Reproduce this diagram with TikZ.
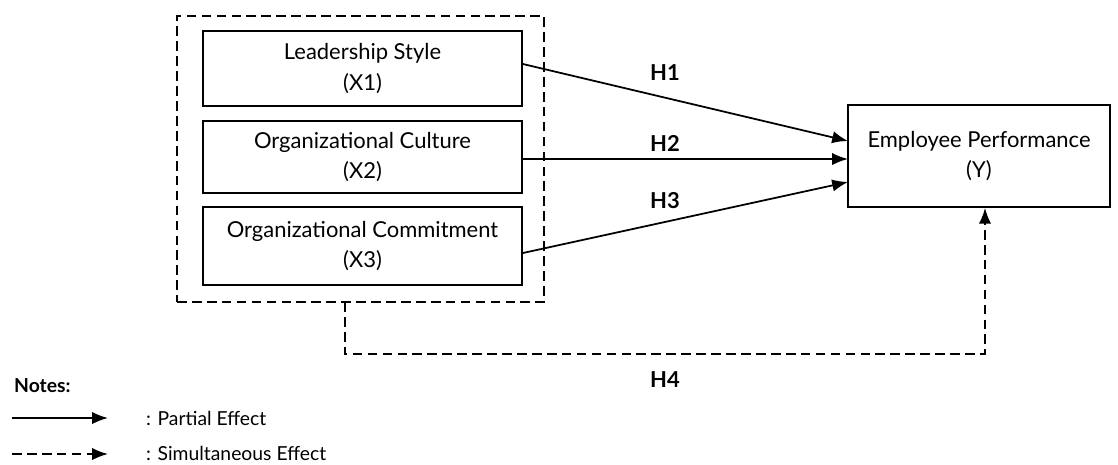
\documentclass[tikz,border=0pt]{standalone}
\usepackage{fontspec}
\setmainfont{Lato}
\usetikzlibrary{arrows.meta}
\begin{document}
\begin{tikzpicture}[x=0.02cm,y=-0.02cm,
  every node/.style={font=\fontsize{12.5}{17.5}\selectfont},
  var/.style={draw, line width=1pt, align=center, inner sep=0pt},
  grp/.style={draw, line width=1pt, dash pattern=on 5.5pt off 3pt},
  partial/.style={line width=1pt, -{Latex[length=9pt,width=7pt]}},
  simul/.style={line width=1pt, dash pattern=on 5.5pt off 3pt, -{Latex[length=9pt,width=7pt]}},
  hlab/.style={font=\fontsize{12.5}{15}\selectfont\bfseries}]
\useasboundingbox (0,0) rectangle (1118,464);
\node[grp, minimum width=367*0.02cm, minimum height=286*0.02cm] (grp) at (360.5,159) {};
\node[var, minimum width=319*0.02cm, minimum height=75*0.02cm] (x1) at (362.5,68.5) {Leadership Style\\(X1)};
\node[var, minimum width=319*0.02cm, minimum height=72*0.02cm] (x2) at (362.5,157) {Organizational Culture\\(X2)};
\node[var, minimum width=319*0.02cm, minimum height=78*0.02cm] (x3) at (362.5,246) {Organizational Commitment\\(X3)};
\node[var, minimum width=262*0.02cm, minimum height=102*0.02cm] (y) at (979,156) {Employee Performance\\(Y)};
\coordinate (e1) at (848,141);
\coordinate (e2) at (848,159);
\coordinate (e3) at (848,182);
\draw[partial] (x1.east |- 0,64) -- (e1);
\draw[partial] (x2.east |- 0,159) -- (e2);
\draw[partial] (x3.east |- 0,253) -- (e3);
\node[hlab] (h1) at (665,73) {H1};
\node[hlab] (h2) at (665,143) {H2};
\node[hlab] (h3) at (665,201) {H3};
\coordinate (g0) at (345,302);
\coordinate (g1) at (345,354);
\coordinate (g2) at (985,354);
\draw[simul] (g0) -- (g1) -- (g2) -- (y.south -| g2);
\node[hlab] (h4) at (665,380) {H4};
\node[font=\fontsize{11}{13}\selectfont\bfseries, anchor=west] (notes) at (8,386) {Notes:};
\coordinate (l1a) at (12,418);
\coordinate (l1b) at (108,418);
\coordinate (l2a) at (12,454);
\coordinate (l2b) at (108,454);
\draw[partial] (l1a) -- (l1b);
\draw[simul] (l2a) -- (l2b);
\node[anchor=west, font=\fontsize{11}{13}\selectfont] (t1) at (140,418) {: Partial Effect};
\node[anchor=west, font=\fontsize{11}{13}\selectfont] (t2) at (140,453) {: Simultaneous Effect};
\end{tikzpicture}
\end{document}
